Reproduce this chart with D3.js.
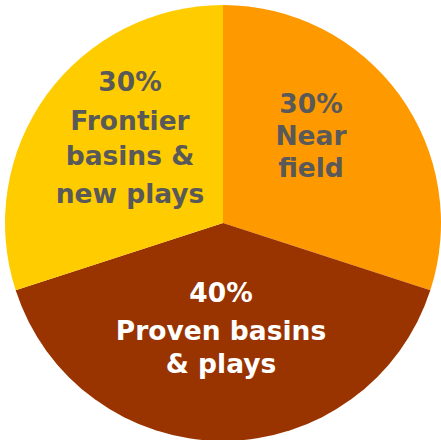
<!DOCTYPE html>
<html><head><meta charset="utf-8">
<script src="https://cdn.jsdelivr.net/npm/d3@7"></script>
<style>html,body{margin:0;padding:0;background:#fff;}</style>
</head><body>
<svg id="c" width="441" height="440"></svg>
<script>
const categories = ["Near field", "Proven basins & plays", "Frontier basins & new plays"];
const values = [30, 40, 30];
const labelLines = [
  ["30%", "Near", "field"],
  ["40%", "Proven basins", "& plays"],
  ["30%", "Frontier", "basins &", "new plays"]
];
const colors = ["#FF9900", "#993300", "#FFCC00"];
const textColors = ["#595959", "#ffffff", "#595959"];

const svg = d3.select("#c");
const cx = 223, cy = 223, r = 218;
const g = svg.append("g").attr("transform", `translate(${cx},${cy})`);
const pie = d3.pie().sort(null).value(d => d)(values);
const arc = d3.arc().innerRadius(0).outerRadius(r);
g.selectAll("path").data(pie).join("path")
  .attr("d", arc).attr("fill", (d, i) => colors[i]);

// label layout (baselines relative to center)
const layout = [
  {x: 88, ys: [-110, -78, -46]},
  {x: -2, ys: [79, 117, 150]},
  {x: -93, ys: [-132, -93, -58, -20]}
];
labelLines.forEach((lines, i) => {
  const t = g.append("text")
    .attr("text-anchor", "middle")
    .attr("fill", textColors[i])
    .style("font-family", "'DejaVu Sans', Verdana, sans-serif")
    .style("font-weight", "bold")
    .style("font-size", "26.5px");
  lines.forEach((ln, j) => {
    t.append("tspan").attr("x", layout[i].x).attr("y", layout[i].ys[j]).text(ln);
  });
});
</script>
</body></html>
